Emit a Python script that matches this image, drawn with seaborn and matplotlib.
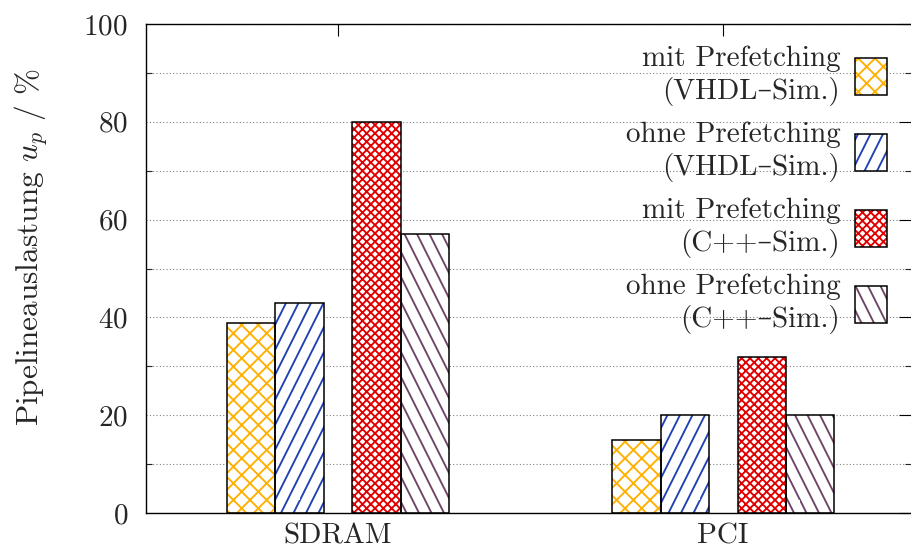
import warnings
warnings.filterwarnings("ignore")
import numpy as np
import pandas as pd
import matplotlib
matplotlib.use("Agg")
import matplotlib.pyplot as plt
import matplotlib.hatch as mhatch
from matplotlib.path import Path
from matplotlib.patches import Patch
import seaborn as sns

# ---------------- data ----------------
categories = ["SDRAM", "PCI"]
series = [
    "mit Prefetching\n(VHDL\u2013Sim.)",
    "ohne Prefetching\n(VHDL\u2013Sim.)",
    "mit Prefetching\n(C++\u2013Sim.)",
    "ohne Prefetching\n(C++\u2013Sim.)",
]
mit_vhdl = [38.8, 15.0]
ohne_vhdl = [43.0, 20.0]
mit_cpp = [80.0, 32.0]
ohne_cpp = [57.0, 20.0]
values = [mit_vhdl, ohne_vhdl, mit_cpp, ohne_cpp]
y_ticks = [0, 20, 40, 60, 80, 100]

# ---------------- style ----------------
colors = ["#FFB000", "#1F40B5", "#E00000", "#6E4466"]
hatches = ["xx", "k", "xxxx", "q"]       # k / q: steep custom line hatches
offsets = [-0.225, -0.1, 0.1, 0.225]     # bar layout inside a group


class _SteepHatch(mhatch.HatchPatternBase):
    """Parallel lines with slope +-2, 8 per hatch tile."""
    char = "k"
    sign = 1

    def __init__(self, hatch, density):
        n = hatch.count(self.char) * 8
        self.n = n
        self.num_lines = (n * 3) // 2 if n else 0
        self.num_vertices = self.num_lines * 2

    def set_vertices_and_codes(self, vertices, codes):
        n = self.n
        ks = np.arange(-n // 2, n)
        xs = ks / n
        if self.sign > 0:
            vertices[0::2, 0] = xs
            vertices[0::2, 1] = 0.0
            vertices[1::2, 0] = xs + 0.5
            vertices[1::2, 1] = 1.0
        else:
            vertices[0::2, 0] = xs
            vertices[0::2, 1] = 1.0
            vertices[1::2, 0] = xs + 0.5
            vertices[1::2, 1] = 0.0
        codes[0::2] = Path.MOVETO
        codes[1::2] = Path.LINETO


class _SteepBackHatch(_SteepHatch):
    char = "q"
    sign = -1


mhatch._hatch_types.append(_SteepHatch)
mhatch._hatch_types.append(_SteepBackHatch)

sns.set_style("white")
plt.rcParams["font.family"] = ["cmr10", "DejaVu Serif"]
plt.rcParams["mathtext.fontset"] = "cm"
plt.rcParams["axes.formatter.use_mathtext"] = True
plt.rcParams["hatch.linewidth"] = 1.35

FS = 21

rows = []
for si, s in enumerate(series):
    for ci, c in enumerate(categories):
        rows.append({"pos": ci + offsets[si], "value": values[si][ci], "series": s})
df = pd.DataFrame(rows)

fig = plt.figure(figsize=(9.11, 5.53), dpi=100)
ax = fig.add_axes([146 / 911, 1 - 513 / 553, 1 - 146 / 911, (513 - 24) / 553])

# hatched layer
sns.barplot(data=df, x="pos", y="value", hue="series", hue_order=series,
            palette=colors, native_scale=True, dodge=False, width=1.0,
            errorbar=None, legend=False, linewidth=0, ax=ax)
for i, cont in enumerate(ax.containers):
    for bar in cont:
        bar.set_facecolor("white")
        bar.set_edgecolor(colors[i])
        bar.set_hatch(hatches[i])
        bar.set_linewidth(0)

# outline layer
sns.barplot(data=df, x="pos", y="value", native_scale=True, width=1.0,
            errorbar=None, fill=False, color="black", linewidth=1.1, ax=ax)

ax.set_xlim(-0.4987, 1.488)
ax.set_ylim(0, 100)
ax.set_xticks(range(len(categories)))
ax.set_xticklabels(categories)
ax.set_yticks(y_ticks)
ax.set_yticks(np.arange(10, 100, 20), minor=True)
ax.set_xlabel("")
ax.set_ylabel(r"Pipelineauslastung $u_p$ / %", fontsize=22.5)
ax.yaxis.set_label_coords(-0.126, 0.543)

ax.tick_params(axis="both", which="major", direction="in", length=8.6,
               width=0.8, labelsize=FS, top=True, right=True, color="black")
ax.tick_params(axis="y", which="major", pad=13)
ax.tick_params(axis="x", which="major", pad=7)
ax.tick_params(axis="y", which="minor", direction="in", length=4.3,
               width=0.8, right=True, left=True)

ax.yaxis.grid(True, which="both", linestyle=(0, (1, 2)), color="#808080", lw=0.8)
ax.set_axisbelow(True)
for sp in ["left", "bottom", "top"]:
    ax.spines[sp].set_linewidth(1.0)
    ax.spines[sp].set_color("black")
ax.spines["right"].set_visible(False)

handles = []
for i in range(len(series)):
    h1 = Patch(facecolor="white", edgecolor=colors[i], hatch=hatches[i], linewidth=0)
    h2 = Patch(facecolor="none", edgecolor="black", linewidth=1.1)
    handles.append((h1, h2))

leg = ax.legend(handles, series, loc="upper right",
                bbox_to_anchor=((887 - 146) / 765, (513 - 46) / 489),
                frameon=False, markerfirst=False, fontsize=FS,
                handlelength=1.1, handleheight=1.55, handletextpad=0.5,
                labelspacing=0.55, borderpad=0, borderaxespad=0)
for t in leg.get_texts():
    t.set_multialignment("right")
    t.set_linespacing(1.2)

fig.savefig("out.png", dpi=100)
